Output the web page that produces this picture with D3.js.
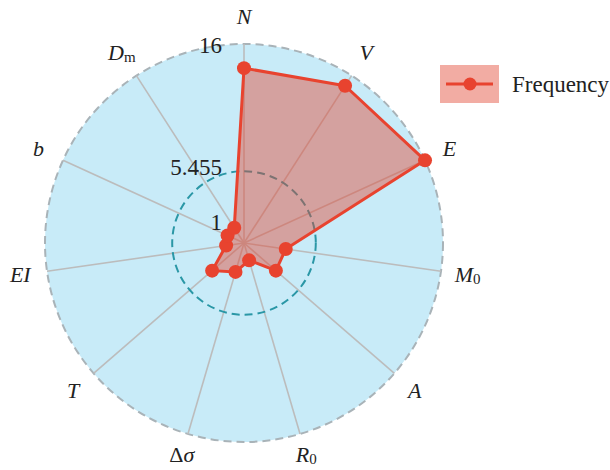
<!DOCTYPE html>
<html><head><meta charset="utf-8">
<script src="https://cdn.jsdelivr.net/npm/d3@7"></script>
<style>body{margin:0;background:#fff}svg{display:block}</style>
</head><body>
<svg id="c" width="610" height="470"></svg>
<script>
// data
const axes = ["N","V","E","M0","A","R0","Δσ","T","EI","b","Dm"];
const values = [14, 15, 16, 3, 3, 1, 2, 3, 1, 1, 1];
const seriesName = "Frequency";

const FF = "'Liberation Serif'";
const svg = d3.select("#c");
const cx = 244, cy = 243, R = 199;
const maxV = d3.max(values), minV = d3.min(values), meanV = d3.mean(values);
const r = d3.scaleLinear().domain([0, maxV]).range([6, R]);
const ang = d3.scalePoint().domain(axes).range([0, 2*Math.PI*(axes.length-1)/axes.length]);
const pt = (a, rad) => [cx + rad*Math.sin(ang(a)), cy - rad*Math.cos(ang(a))];

const g = svg.append("g");
g.append("circle").attr("cx",cx).attr("cy",cy).attr("r",R)
  .attr("fill","#c8ebf8").attr("stroke","#a9b3b8").attr("stroke-width",2).attr("stroke-dasharray","8,5");
g.selectAll("line.ax").data(axes).join("line").attr("class","ax")
  .attr("x1",cx).attr("y1",cy)
  .attr("x2",d=>pt(d,R)[0]).attr("y2",d=>pt(d,R)[1])
  .attr("stroke","#bcbcbc").attr("stroke-width",1.6);
g.append("circle").attr("cx",cx).attr("cy",cy).attr("r",r(meanV))
  .attr("fill","none").attr("stroke","#2a97a6").attr("stroke-width",2).attr("stroke-dasharray","8,5");

const line = d3.line().curve(d3.curveLinearClosed);
const pts = axes.map((a,i)=>pt(a, r(values[i])));
g.append("path").attr("d", line(pts))
  .attr("fill","rgba(226,70,50,0.45)").attr("stroke","#e8432f").attr("stroke-width",3).attr("stroke-linejoin","round");
g.selectAll("circle.p").data(pts).join("circle").attr("class","p")
  .attr("cx",d=>d[0]).attr("cy",d=>d[1]).attr("r",7).attr("fill","#e8432f");

const ticks = [minV, +meanV.toFixed(3), maxV];
const tickOff = [5, 4, 9];
g.selectAll("text.tk").data(ticks).join("text").attr("class","tk")
  .attr("x", 222).attr("y",(d,i)=>cy - r(d) + tickOff[i])
  .attr("text-anchor","end")
  .style("font-family",FF).style("font-size","23px").attr("fill","#222")
  .text(d=>d3.format("~f")(d));

const lab = {
  "N":[["N","i"]], "V":[["V","i"]], "E":[["E","i"]], "M0":[["M","i"],["0","s"]],
  "A":[["A","i"]], "R0":[["R","i"],["0","s"]], "Δσ":[["Δ","n"],["σ","i"]],
  "T":[["T","i"]], "EI":[["EI","i"]], "b":[["b","i"]], "Dm":[["D","i"],["m","s"]]
};
axes.forEach(a=>{
  const deg = ang(a)*180/Math.PI;
  const LR = (deg > 150 && deg < 210) ? R + 22 : R + 27;
  const [x,y] = pt(a, LR);
  const t = g.append("text").attr("x",x).attr("y",y+7).attr("text-anchor","middle")
    .style("font-family",FF).style("font-size","22px").attr("fill","#222");
  lab[a].forEach(([s,k])=>{
    const ts = t.append("tspan").text(s);
    if(k==="i") ts.style("font-style","italic");
    if(k==="s") ts.style("font-size","15px").attr("dy",2);
  });
});

const lg = svg.append("g");
lg.append("rect").attr("x",440).attr("y",65).attr("width",59).attr("height",38)
  .attr("fill","rgba(226,70,50,0.45)");
lg.append("line").attr("x1",446).attr("x2",493).attr("y1",84).attr("y2",84)
  .attr("stroke","#e8432f").attr("stroke-width",3);
lg.append("circle").attr("cx",470).attr("cy",84).attr("r",6.5).attr("fill","#e8432f");
lg.append("text").attr("x",512).attr("y",92)
  .style("font-family",FF).style("font-size","23px").attr("fill","#222").text(seriesName);
</script>
</body></html>
